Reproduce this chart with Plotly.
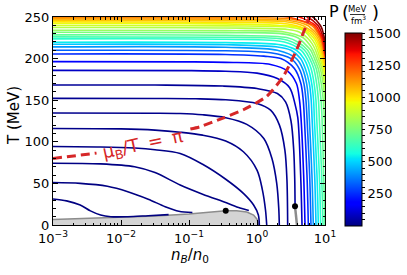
import numpy as np
import plotly.graph_objects as go
from plotly.colors import sample_colorscale

# ---------------- data ----------------
# pressure level of every isobar (MeV/fm^3) -> colour
P_LEVELS = [2, 4, 7, 10, 14, 18, 24, 32,
            90, 170, 250, 330, 410, 480, 540, 600, 650, 700, 750, 800,
            850, 900, 950, 1000, 1050, 1100, 1150,
            1250, 1330, 1420, 1500]

# isobars: log10(n_B/n_0) and T (MeV)
CURVE_LOG_NB = [
    [-3, -2.8, -2.6, -2.45, -2.3, -2.15, -1.9, -1.6, -1.3],
    [-3, -2.6, -2.2, -1.9, -1.6, -1.35, -1.15, -0.95],
    [-3, -2.3, -1.8, -1.5, -1.13, -0.8, -0.46, -0.25, -0.12],
    [-3, -2.3, -1.8, -1.5, -1.13, -0.8, -0.46, -0.2, -0.05, 0.02, 0.034],
    [-3, -2, -1.5, -1.13, -0.8, -0.46, -0.2, 0.0, 0.08, 0.125, 0.143],
    [-3, -1.5, -1.13, -0.8, -0.46, -0.15, 0.1, 0.22, 0.29, 0.32, 0.328],
    [-3, -1.5, -0.9, -0.46, 0, 0.2, 0.33, 0.41, 0.44, 0.451],
    [-3, -1.5, -0.5, 0, 0.3, 0.42, 0.5, 0.54, 0.555, 0.56],
    [-3, -1, -0.46, 0, 0.3, 0.48, 0.56, 0.6, 0.642, 0.662],
    [-3, -1, -0.46, 0.2, 0.45, 0.58, 0.625, 0.647, 0.686, 0.706],
    [-3, -0.46, 0.1, 0.35, 0.55, 0.645, 0.68, 0.696, 0.735, 0.755],
    [-3, -0.46, 0.2, 0.5, 0.62, 0.69, 0.72, 0.735, 0.774, 0.794],
    [-3, -0.46, 0.3, 0.58, 0.67, 0.73, 0.757, 0.769, 0.808, 0.828],
    [-3, -0.46, 0.3, 0.5, 0.64, 0.71, 0.77, 0.797, 0.809, 0.848, 0.868],
    [-3, -0.46, 0.35, 0.58, 0.69, 0.755, 0.805, 0.832, 0.843, 0.882, 0.902],
    [-3, -0.46, 0.4, 0.65, 0.735, 0.795, 0.84, 0.867, 0.878, 0.917, 0.937],
    [-3, -0.46, 0.1, 0.45, 0.7, 0.775, 0.835, 0.877, 0.904, 0.916, 0.951, 0.971],
    [-3, -0.46, 0.45, 0.6, 0.745, 0.81, 0.87, 0.912, 0.942, 0.956, 0.98, 1.0],
    [-3, -0.46, 0.35, 0.6, 0.7, 0.79, 0.845, 0.9, 0.945, 0.975, 0.99, 1.013, 1.035],
    [-3, -0.46, 0.4, 0.68, 0.76, 0.825, 0.875, 0.93, 0.972, 1.0, 1.02, 1.045],
    [-3, -0.46, 0.45, 0.62, 0.74, 0.81, 0.86, 0.903, 0.955, 0.992, 1.02, 1.05],
    [-3, -0.46, 0.5, 0.68, 0.79, 0.85, 0.89, 0.928, 0.975, 1.01],
    [-3, -0.46, 0.3, 0.63, 0.74, 0.83, 0.88, 0.915, 0.95, 0.99, 1.02],
    [-3, -0.46, 0.35, 0.55, 0.7, 0.78, 0.86, 0.905, 0.935, 0.968, 1.0, 1.03],
    [-3, -0.46, 0.4, 0.66, 0.75, 0.82, 0.89, 0.925, 0.953, 0.983, 1.01],
    [-3, -0.46, 0.45, 0.74, 0.8, 0.855, 0.915, 0.945, 0.968, 0.995, 1.02],
    [-3, -0.46, 0.5, 0.8, 0.85, 0.885, 0.935, 0.96, 0.98, 1.005],
    [0.2, 0.45, 0.83, 0.87, 0.9, 0.945, 0.968, 0.985, 1.01],
    [0.35, 0.62, 0.86, 0.895, 0.92, 0.96, 0.978, 0.993, 1.015],
    [0.45, 0.74, 0.895, 0.925, 0.945, 0.975, 0.99, 1.0, 1.02],
    [0.55, 0.82, 0.93, 0.955, 0.97, 0.99, 1.0, 1.005, 1.02],
]
CURVE_T = [
    [31.3, 29, 24, 17, 12, 10, 10, 11.2, 12.5],
    [51, 50, 46.5, 40, 31, 22, 16.5, 15],
    [74.3, 73.5, 70, 63, 48, 37, 27, 20.5, 17.5],
    [94.4, 93.8, 92.5, 90.5, 86, 73, 55, 38, 24, 12, 0],
    [116, 115.5, 114, 111.5, 108, 101, 88, 66, 42, 18, 0],
    [134.6, 134.4, 134, 132.5, 129, 121, 104, 80, 50, 20, 0],
    [152.2, 152, 151.7, 150.5, 146, 138, 120, 90, 55, 0],
    [168.3, 168.2, 167, 164, 158, 148, 125, 90, 55, 23],
    [185.9, 185.6, 184.8, 182.5, 176, 165, 145, 129, 60, 0],
    [196.4, 196.1, 195.5, 193, 185, 170, 150, 129, 60, 0],
    [205.6, 205, 203, 200, 188, 170, 150, 129, 60, 0],
    [210, 209.4, 207, 200, 188, 170, 150, 129, 60, 0],
    [214.1, 213.6, 210, 200, 188, 170, 150, 129, 60, 0],
    [217.2, 216.7, 214, 210, 200, 188, 170, 150, 129, 60, 0],
    [219.7, 219.2, 216.5, 210, 200, 188, 170, 150, 129, 60, 0],
    [223.7, 223.2, 220, 210, 200, 188, 170, 150, 129, 60, 0],
    [226.1, 225.6, 225, 222, 210, 200, 188, 170, 150, 129, 60, 0],
    [228.5, 228, 225, 220, 210, 200, 188, 170, 150, 129, 60, 0],
    [231.7, 231.2, 230, 225, 218, 210, 200, 188, 170, 150, 129, 60, 0],
    [234.1, 233.6, 232, 225, 218, 210, 200, 188, 170, 150, 129, 60],
    [237.3, 236.8, 235, 232, 225, 218, 210, 200, 188, 170, 150, 129],
    [239.8, 239.3, 237.5, 234, 225, 218, 210, 200, 188, 170],
    [242.2, 241.7, 240, 237.5, 232, 225, 218, 210, 200, 188, 170],
    [244.2, 243.7, 242.5, 240, 236, 232, 225, 218, 210, 200, 188, 170],
    [246.2, 245.7, 244.5, 240, 236, 232, 225, 218, 210, 200, 188],
    [247.8, 247.3, 246, 240, 236, 232, 225, 218, 210, 200, 188],
    [249.5, 249, 247.5, 240, 236, 232, 225, 218, 210, 200],
    [251, 250, 240, 236, 232, 225, 218, 210, 200],
    [252.5, 250, 240, 236, 232, 225, 218, 210, 200],
    [255, 250, 240, 236, 232, 225, 218, 210, 200],
    [258, 250, 240, 236, 232, 225, 218, 210, 200],
]

# mu_B / T = pi line (gap where the label sits)
MU_LOG_NB = [-3, -2.36, None, -0.98, -0.84, -0.5, -0.2, 0.143, 0.387, 0.584, 0.681, 0.779, 0.8]
MU_T = [80, 86.4, None, 115.3, 118, 128.5, 138.5, 154.6, 178.7, 210.8, 231, 251, 256]

# grey region (upper boundary)
GRAY_LOG_NB = [-3, -2.5, -2, -1.5, -1, -0.7, -0.46, -0.3, -0.15, -0.05, 0, 0.02, 0.025]
GRAY_T = [6.5, 7.8, 9.0, 10.8, 13.2, 15.3, 17.0, 17.0, 15.5, 12.0, 7.0, 2.0, 0]

# thin grey band below the second point
BAND_LOG_NB = [0.559, 0.575, 0.588]
BAND_T = [22.5, 10, 0]

# black points
DOT_LOG_NB = [-0.46, 0.559]
DOT_T = [17.2, 22.5]

X_TICKS = [1e-3, 1e-2, 1e-1, 1, 10]
X_TICK_TEXT = ["10<sup>\u22123</sup>", "10<sup>\u22122</sup>", "10<sup>\u22121</sup>",
               "10<sup>0</sup>", "10<sup>1</sup>"]
Y_TICKS = [0, 50, 100, 150, 200, 250]
CB_MAJOR = [250, 500, 750, 1000, 1250, 1500]
P_MIN, P_MAX = 0, 1500

# ---------------- styling ----------------
JET = [[0, 'rgb(0,0,127)'], [0.11, 'rgb(0,0,255)'], [0.125, 'rgb(0,0,255)'],
       [0.34, 'rgb(0,219,255)'], [0.35, 'rgb(0,229,246)'], [0.375, 'rgb(20,255,226)'],
       [0.64, 'rgb(238,255,8)'], [0.65, 'rgb(246,245,0)'], [0.66, 'rgb(255,236,0)'],
       [0.89, 'rgb(255,18,0)'], [0.91, 'rgb(231,0,0)'], [1, 'rgb(127,0,0)']]
RED = '#d62728'
FONT = 'DejaVu Sans'

L, R, T, B = 53, 82, 17, 50
W, H = 407, 275
PW, PH = W - L - R, H - T - B


def px(xp):
    return (xp - L) / PW


def py(yp):
    return (H - B - yp) / PH


def to_n(vals):
    return [None if v is None else 10 ** v for v in vals]


fig = go.Figure()

# grey region
fig.add_trace(go.Scatter(x=to_n(GRAY_LOG_NB), y=GRAY_T, mode='lines', fill='tozeroy',
                         fillcolor='#d4d4d4', line=dict(color='#8c8c8c', width=1.5),
                         hoverinfo='skip', showlegend=False))
fig.add_trace(go.Scatter(x=to_n(BAND_LOG_NB), y=BAND_T, mode='lines',
                         line=dict(color='#8c8c8c', width=2.5),
                         hoverinfo='skip', showlegend=False))

# isobars
for lx, tt, p in zip(CURVE_LOG_NB, CURVE_T, P_LEVELS):
    col = sample_colorscale(JET, [(p - P_MIN) / (P_MAX - P_MIN)])[0]
    fig.add_trace(go.Scatter(x=to_n(lx), y=tt, mode='lines',
                             line=dict(color=col, width=1.6, shape='spline', smoothing=0.9),
                             hoverinfo='skip', showlegend=False))

# mu_B/T = pi
fig.add_trace(go.Scatter(x=to_n(MU_LOG_NB), y=MU_T, mode='lines',
                         line=dict(color=RED, width=3, dash='9px,5px', shape='spline', smoothing=0.6),
                         connectgaps=False, hoverinfo='skip', showlegend=False))

# points
fig.add_trace(go.Scatter(x=to_n(DOT_LOG_NB), y=DOT_T, mode='markers',
                         marker=dict(color='black', size=6),
                         hoverinfo='skip', showlegend=False))

# colour bar (labelled ticks every 250, small ticks every 50)
cb_vals = list(range(50, P_MAX + 1, 50))
cb_text = [str(v) if v in CB_MAJOR else '' for v in cb_vals]
fig.add_trace(go.Scatter(x=[None, None], y=[None, None], mode='markers',
                         marker=dict(color=[P_MIN, P_MAX], colorscale=JET, cmin=P_MIN, cmax=P_MAX,
                                     showscale=True,
                                     colorbar=dict(x=px(345), xanchor='left', xpad=0,
                                                   y=py(226), yanchor='bottom', ypad=0,
                                                   lenmode='pixels', len=193,
                                                   thicknessmode='pixels', thickness=17,
                                                   outlinecolor='black', outlinewidth=1,
                                                   tickmode='array', tickvals=cb_vals, ticktext=cb_text,
                                                   ticks='outside', ticklen=3,
                                                   tickcolor='black',
                                                   tickfont=dict(family=FONT, size=13))),
                         hoverinfo='skip', showlegend=False))

minor_x = [m * 10.0 ** e for e in range(-3, 1) for m in range(2, 10)]

fig.update_layout(
    width=W, height=H, margin=dict(l=L, r=R, t=T, b=B, autoexpand=False),
    paper_bgcolor='white', plot_bgcolor='white',
    font=dict(family=FONT, size=13, color='black'),
    showlegend=False,
    xaxis=dict(type='log', range=[-3, 1], tickvals=X_TICKS, ticktext=X_TICK_TEXT,
               ticks='inside', ticklen=5, tickwidth=1, tickcolor='black',
               showline=True, linecolor='black', linewidth=1, mirror='allticks',
               showgrid=False, zeroline=False, tickfont=dict(size=13),
               ticklabelstandoff=1,
               minor=dict(tickvals=minor_x, ticks='inside', ticklen=2.5, tickwidth=0.8,
                          tickcolor='black', showgrid=False)),
    yaxis=dict(range=[0, 250], tickvals=Y_TICKS,
               ticks='inside', ticklen=5, tickwidth=1, tickcolor='black',
               showline=True, linecolor='black', linewidth=1, mirror='allticks',
               showgrid=False, zeroline=False, tickfont=dict(size=13),
               minor=dict(dtick=10, ticks='inside', ticklen=2.5, tickwidth=0.8,
                          tickcolor='black', showgrid=False)),
)

ann = [
    dict(text="T (MeV)", x=px(14), y=py(116), textangle=-90, font=dict(size=15)),
    dict(text="<i>n</i><sub><i>B</i></sub>/<i>n</i><sub>0</sub>", x=px(190), y=py(256),
         font=dict(size=15)),
    dict(text="P", x=px(333.5), y=py(11), font=dict(size=16)),
    dict(text="(", x=px(345), y=py(12), font=dict(size=18)),
    dict(text=")", x=px(375), y=py(12), font=dict(size=18)),
    dict(text="MeV", x=px(357.5), y=py(8.5), font=dict(size=8.5)),
    dict(text="fm<sup>3</sup>", x=px(358), y=py(20), font=dict(size=8.5)),
]
for a in ann:
    fig.add_annotation(xref='paper', yref='paper', showarrow=False,
                       xanchor='center', yanchor='middle', **a)

fig.add_shape(type='line', xref='paper', yref='paper',
              x0=px(350), x1=px(365), y0=py(14.5), y1=py(14.5),
              line=dict(color='black', width=0.8))

fig.add_annotation(xref='x', yref='y', x=-1.67, y=96, showarrow=False,
                   text="\u03bc<sub>B</sub>/T \u2009=\u2009 \u03c0", textangle=-12,
                   font=dict(size=18, color=RED))

fig.write_html("out.html", config={'displayModeBar': False},
               post_script="document.body.style.margin='0';document.body.style.padding='0';")
